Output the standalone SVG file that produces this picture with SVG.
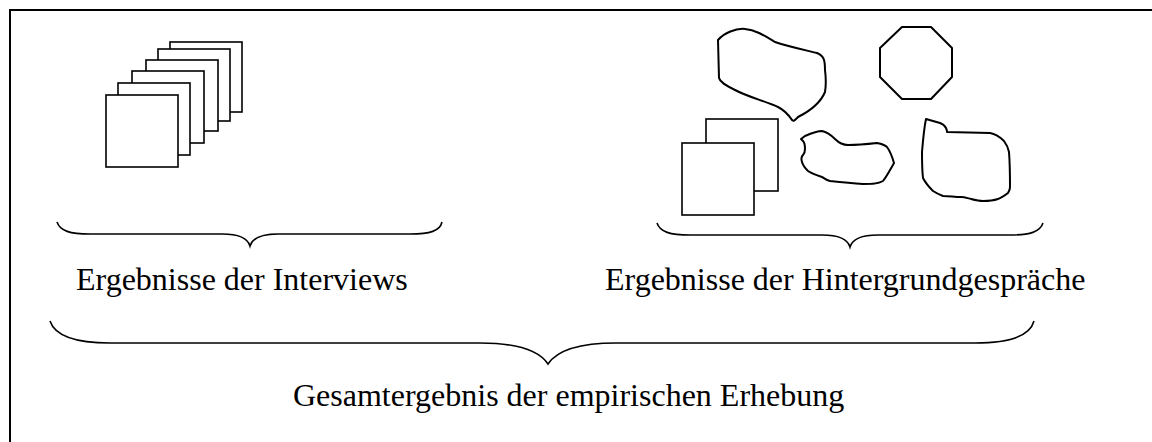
<svg xmlns="http://www.w3.org/2000/svg" width="1152" height="442" viewBox="0 0 1152 442">
  <style>
    .frame { fill: none; stroke: #000; stroke-width: 2; }
    .sheet { fill: #fff; stroke: #000; stroke-width: 1.6; }
    .blob { fill: none; stroke: #000; stroke-width: 2; stroke-linejoin: round; }
    .brace { fill: none; stroke: #000; stroke-width: 1.6; }
    .label { font-family: "Liberation Serif", "Times New Roman", serif; font-size: 32px; fill: #000; }
  </style>

  <!-- outer frame (continues past the right and bottom edges) -->
  <rect class="frame" x="10" y="10" width="1200" height="500"/>

  <!-- stack of interview sheets, drawn back to front -->
  <g id="interviews-stack">
    <rect class="sheet" x="170" y="42" width="72" height="70"/>
    <rect class="sheet" x="158" y="49" width="72" height="72"/>
    <rect class="sheet" x="146" y="60" width="72" height="71"/>
    <rect class="sheet" x="132" y="71" width="72" height="72"/>
    <rect class="sheet" x="118" y="83" width="72" height="72"/>
    <rect class="sheet" x="106" y="95" width="72" height="72"/>
  </g>

  <!-- background talks: loose shapes -->
  <g id="talks-sheets">
    <rect class="sheet" x="706" y="119" width="72" height="72"/>
    <rect class="sheet" x="682" y="143" width="72" height="72"/>
  </g>

  <g id="talks-blob-1">
    <path class="blob" d="M718,40 C724,33 736,28 745,29 C756,30 765,36 775,42 C790,47 805,50 817,53 C824,56 825,60 825,70 C826,78 826,86 825,92 C820,104 808,112 798,117 C795,120 794,122 792,120 C788,114 784,110 778,107 C765,101 748,97 735,90 C725,85 720,82 719,78 Z"/>
  </g>

  <g id="talks-octagon">
    <polygon class="blob" points="902,27 931,27 952,48 952,77 931,99 902,99 880,77 880,48"/>
  </g>

  <g id="talks-blob-2">
    <path class="blob" d="M801,139 L805,136 C812,133 817,131 822,131 C827,132 831,135 835,139 C839,143 842,145 848,145 C858,145 868,144 877,143 C882,144 885,145 887,147 C890,151 892,156 894,163 C890,170 887,176 883,181 C878,184 872,184 863,184 C850,183 840,182 830,181 C826,180 824,178 822,177 C816,175 811,173 808,171 C805,168 803,166 802,162 C801,159 801,157 803,155 C805,153 805,152 805,149 C805,145 804,142 803,141 Z"/>
  </g>

  <g id="talks-blob-3">
    <path class="blob" d="M926,119 L940,123 C943,124 945,126 946,128 C947,130 947,131 947,132 L990,133 C996,134 1000,137 1004,141 C1007,145 1008,147 1009,152 C1010,165 1010,178 1010,187 C1010,190 1009,191 1008,193 C1004,196 1001,198 998,199 C992,201 988,201 983,201 C979,201 975,200 971,199 C967,198 964,197 961,197 C955,197 949,196 943,196 C938,194 936,193 933,191 C928,186 925,182 923,178 C922,170 922,160 922,152 C923,140 924,128 926,119 Z"/>
  </g>

  <!-- grouping braces -->
  <g id="connectors">
    <path class="brace" d="M57,222 C60,231 70,234 90,234 L222,234 C240,234 248,239 250,246 C252,239 260,234 278,234 L410,234 C430,234 440,231 442,222"/>
    <path class="brace" d="M657,223 C660,232 670,235 690,235 L822,235 C840,235 848,240 850,247 C852,240 860,235 878,235 L1010,235 C1030,235 1040,232 1043,223"/>
    <path class="brace" d="M50,321 C55,336 75,343 110,343 L480,343 C520,343 540,352 548,364 C556,352 576,343 616,343 L975,343 C1010,343 1030,336 1034,321"/>
  </g>

  <!-- labels -->
  <g id="label-interviews">
    <text class="label" x="76" y="290">Ergebnisse der Interviews</text>
  </g>
  <g id="label-talks">
    <text class="label" x="605" y="290">Ergebnisse der Hintergrundgespräche</text>
  </g>
  <g id="label-total">
    <text class="label" x="293" y="406">Gesamtergebnis der empirischen Erhebung</text>
  </g>
</svg>
